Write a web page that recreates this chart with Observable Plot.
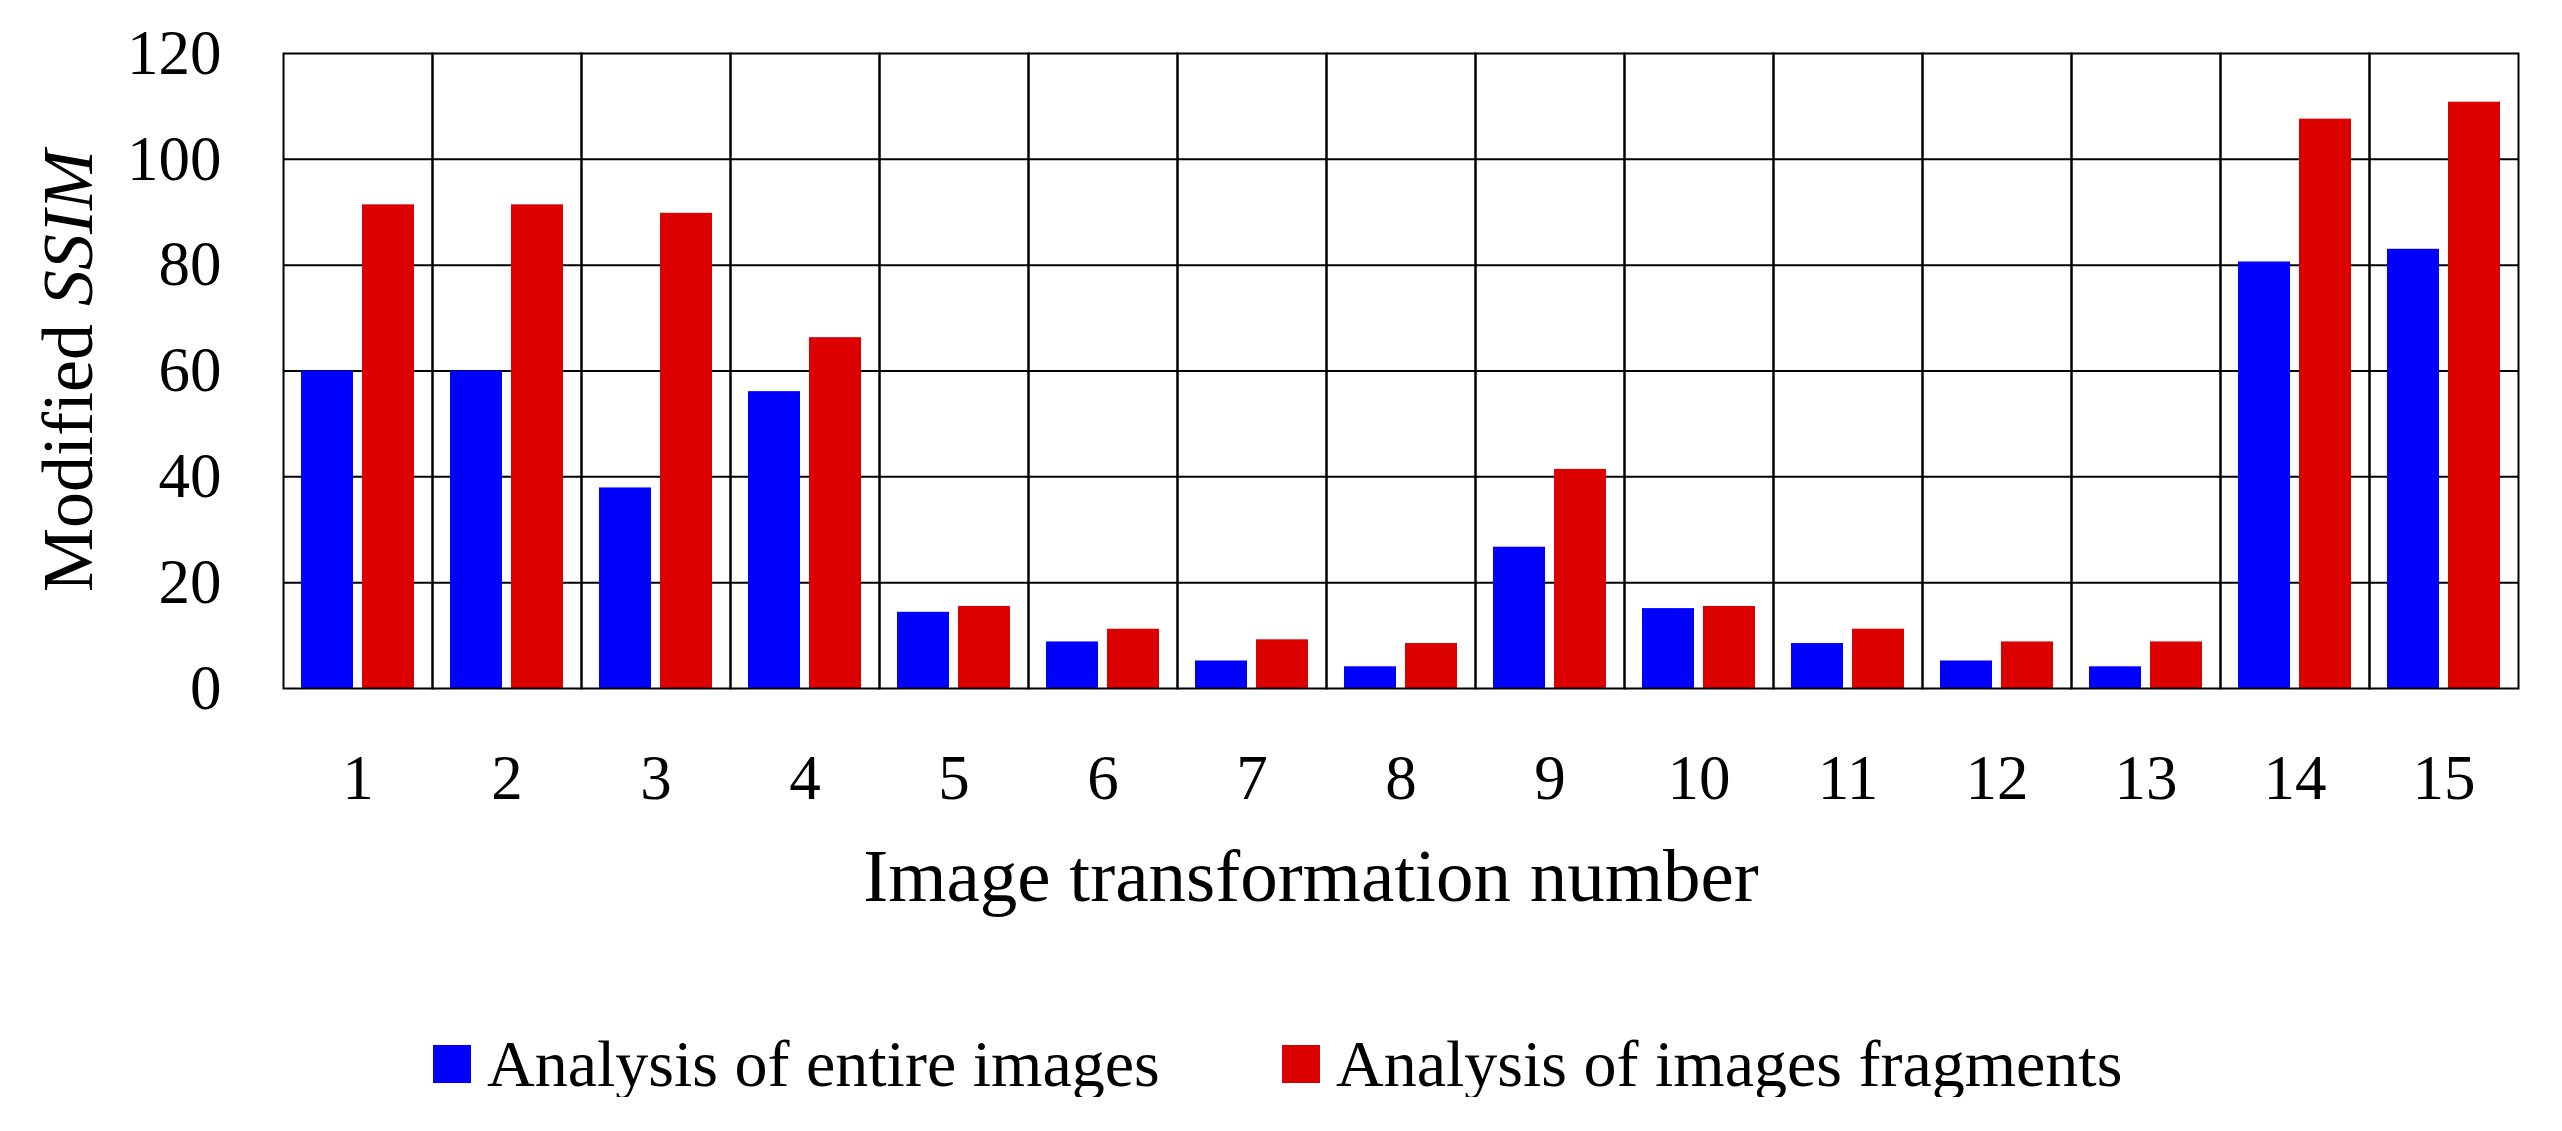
<!DOCTYPE html>
<html><head><meta charset="utf-8">
<script src="https://cdn.jsdelivr.net/npm/d3@7"></script>
<script src="https://cdn.jsdelivr.net/npm/@observablehq/plot@0.6"></script>
<style>
body{margin:0;background:#fff;font-family:"Liberation Serif",serif;}
#legend{position:relative;height:66px;margin-top:51px;}
.item{position:absolute;top:0;display:flex;align-items:center;height:66px;font-size:66px;line-height:66px;color:#000;white-space:nowrap;}
.sw{width:38px;height:38px;margin-right:16px;display:inline-block;}
</style></head><body>
<div id="chart"></div>
<div id="legend"></div>
<script>
const transformations = [1, 2, 3, 4, 5, 6, 7, 8, 9, 10, 11, 12, 13, 14, 15];
const seriesNames = ["Analysis of entire images", "Analysis of images fragments"];
const entireValues = [60, 60, 37.9, 56.1, 14.4, 8.8, 5.2, 4.1, 26.7, 15.1, 8.5, 5.2, 4.1, 80.6, 83.0];
const fragmentValues = [91.4, 91.4, 89.8, 66.3, 15.5, 11.2, 9.2, 8.5, 41.4, 15.5, 11.2, 8.8, 8.8, 107.6, 110.8];
const seriesColors = ["#0000ff", "#dd0000"];
const yTicks = [0, 20, 40, 60, 80, 100, 120];
const gridTicks = [20, 40, 60, 80, 100];
const xLabel = "Image transformation number";
const yLabel = "Modified SSIM";

const data = [];
transformations.forEach((t, i) => {
  data.push({n: t, series: seriesNames[0], value: entireValues[i]});
  data.push({n: t, series: seriesNames[1], value: fragmentValues[i]});
});

const W = 2562, H = 980;
const chart = Plot.plot({
  width: W,
  height: H,
  marginLeft: 277,
  marginRight: 39,
  marginTop: 53,
  marginBottom: H - 688,
  style: {fontFamily: "Liberation Serif, serif", background: "#fff", color: "#000"},
  fx: {domain: transformations, padding: 0},
  x: {domain: seriesNames, paddingInner: 0.145, paddingOuter: 0.28, axis: null},
  y: {domain: [0, 120]},
  color: {domain: seriesNames, range: seriesColors},
  marks: [
    Plot.gridY(gridTicks, {stroke: "#000", strokeOpacity: 1, strokeWidth: 2}),
    Plot.barY(data, {fx: "n", x: "series", y: "value", fill: "series"}),
    Plot.frame({stroke: "#000", strokeWidth: 2}),
    Plot.axisY({ticks: yTicks, tickSize: 0, tickPadding: 62, fontSize: 63, label: yLabel, labelAnchor: "center", labelOffset: 243, labelArrow: "none"}),
    Plot.axisFx({anchor: "bottom", tickSize: 0, tickPadding: 66, fontSize: 63, label: xLabel, labelAnchor: "center", labelOffset: 212, labelArrow: "none"})
  ]
});
document.getElementById("chart").appendChild(chart);

// style axis labels
const svg = d3.select(chart);
svg.selectAll('g[aria-label="y-axis label"] text').attr("font-size", 72);
svg.selectAll('g[aria-label="fx-axis label"] text').attr("font-size", 75).attr("dx", -90);
const yl = svg.select('g[aria-label="y-axis label"] text');
if (!yl.empty()) {
  yl.text(null);
  yl.append("tspan").text("Modified ");
  yl.append("tspan").attr("font-style", "italic").text("SSIM");
}

const legend = d3.select("#legend");
const lefts = [433, 1282];
seriesNames.forEach((s, i) => {
  const it = legend.append("div").attr("class", "item").style("left", lefts[i] + "px");
  it.append("span").attr("class", "sw").style("background", seriesColors[i]);
  it.append("span").text(s);
});
</script>
</body></html>
